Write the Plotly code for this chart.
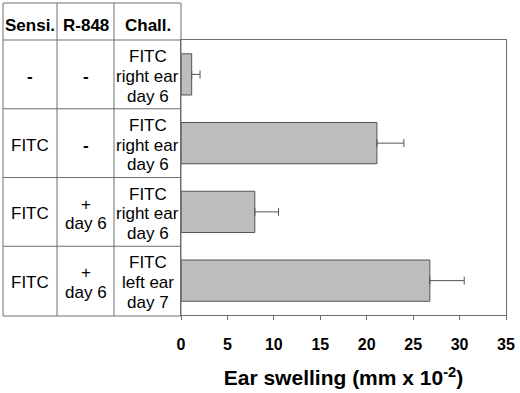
import plotly.graph_objects as go

# ---- data ----
groups = ["g1", "g2", "g3", "g4"]
swelling = [1.15, 21.1, 7.95, 26.8]
swelling_err = [0.9, 2.9, 2.55, 3.7]
sensi = ["-", "FITC", "FITC", "FITC"]
r848 = ["-", "-", "+<br>day 6", "+<br>day 6"]
chall = ["FITC<br>right ear<br>day 6", "FITC<br>right ear<br>day 6",
         "FITC<br>right ear<br>day 6", "FITC<br>left ear<br>day 7"]
headers = ["Sensi.", "R-848", "Chall."]
x_ticks = [0, 5, 10, 15, 20, 25, 30, 35]

FONT = "Liberation Sans, Arial, sans-serif"
LINE = "#6e6e6e"

fig = go.Figure(go.Bar(
    y=groups, x=swelling, orientation="h", width=0.6,
    marker=dict(color="#bdbdbd", line=dict(color="#555555", width=1)),
    error_x=dict(type="data", array=swelling_err, arrayminus=[0] * len(swelling_err),
                 symmetric=False, color="#555555", thickness=1, width=4),
    hoverinfo="skip",
))

# plot area in pixels: x 181..506, y 40..315
L, R, T, B = 181, 506, 40, 315
W, H = R - L, B - T
def px(x):
    return (x - L) / W
def py(y):
    return (B - y) / H

shapes = []
col_x = [3, 57, 114, 181]
for cx in col_x:
    shapes.append(dict(type="line", xref="paper", yref="paper", x0=px(cx), x1=px(cx),
                       y0=py(316), y1=py(3), line=dict(color=LINE, width=1)))
for yy in [3, 40, 316]:
    shapes.append(dict(type="line", xref="paper", yref="paper", x0=px(3), x1=px(181),
                       y0=py(yy), y1=py(yy), line=dict(color=LINE, width=1)))
for i in range(len(groups) - 1):
    shapes.append(dict(type="line", xref="paper", yref="y", x0=px(3), x1=px(181),
                       y0=i + 0.5, y1=i + 0.5, line=dict(color=LINE, width=1)))

annotations = []
col_c = [30, 85.5, 147.5]
for h, cx in zip(headers, col_c):
    annotations.append(dict(text=f"<b>{h}</b>", x=px(cx), y=py(26), xref="paper", yref="paper",
                            xanchor="center", yanchor="middle",
                            showarrow=False, font=dict(size=17, color="black", family=FONT)))
LS = 19.7
for i, g in enumerate(groups):
    for cols, cx in zip([sensi, r848, chall], col_c):
        lines = cols[i].split("<br>")
        n = len(lines)
        for k, t in enumerate(lines):
            if t == "-":
                t = "<b>-</b>"
            annotations.append(dict(text=t, x=px(cx), y=g, xref="paper", yref="y",
                                    xanchor="center", yanchor="middle",
                                    yshift=((n - 1) / 2 - k) * LS - 2,
                                    showarrow=False,
                                    font=dict(size=17, color="black", family=FONT)))

fig.update_layout(
    width=520, height=393,
    margin=dict(l=L, r=520 - R, t=T, b=393 - B),
    paper_bgcolor="white", plot_bgcolor="white",
    showlegend=False,
    font=dict(family=FONT, color="black"),
    shapes=shapes, annotations=annotations,
    xaxis=dict(range=[0, 35], tickvals=x_ticks, ticks="outside", ticklen=4, tickcolor=LINE,
               showline=True, linecolor=LINE, mirror=True, showgrid=False, zeroline=False,
               automargin=False, ticklabelstandoff=11,
               tickfont=dict(size=16, weight="bold", color="black"),
               title=dict(text="<b>Ear swelling (mm x 10<sup>-2</sup>)</b>",
                          font=dict(size=21, color="black"), standoff=18)),
    yaxis=dict(autorange="reversed", showticklabels=False, showline=True, linecolor=LINE,
               mirror=True, showgrid=False, zeroline=False, ticks="", automargin=False),
)

fig.write_html("out.html", config={"displayModeBar": False},
               post_script="document.body.style.margin='0';")
